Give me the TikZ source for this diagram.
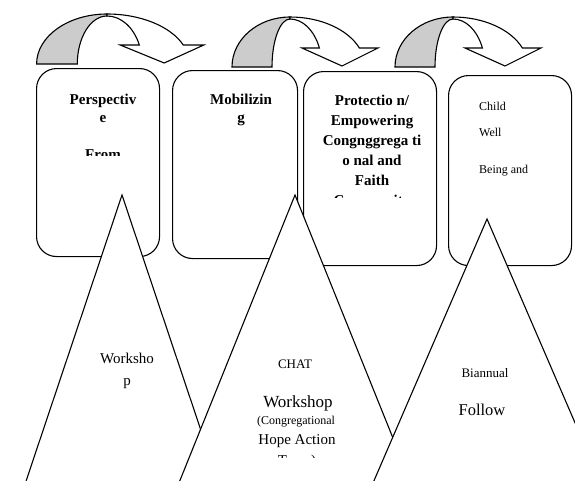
\documentclass[tikz,border=0pt]{standalone}
\usepackage{fontspec}
\setmainfont{Liberation Serif}

% curved block arrow: base centre, x stretch, outer and inner radius of the shaded foot
\newcommand{\bendarrow}[4]{%
  \begin{scope}[shift={#1},xscale=#2]
    \filldraw[backside] (-#3,0) arc[start angle=180,end angle=90,x radius=#3,y radius=50]
      -- (0,48) arc[start angle=90,end angle=180,x radius=#4,y radius=48] -- cycle;
    \filldraw[frontside] (0,50) arc[start angle=90,end angle=22.3,x radius=75,y radius=50]
      -- (88,19) -- (52,1) -- (12,19) -- (29.4,19)
      arc[start angle=23.3,end angle=90,x radius=32,y radius=48] -- cycle;
  \end{scope}}

\begin{document}
\begin{tikzpicture}[x=1pt,y=1pt,
  stage/.style={draw,line width=1.1pt,rounded corners=20pt,fill=white,
    anchor=north west,inner sep=0pt},
  wedge/.style={draw,line width=1.1pt,fill=white},
  backside/.style={draw,line width=1.1pt,fill=gray!40},
  frontside/.style={draw,line width=1.1pt,fill=white},
  boxtext/.style={align=center,anchor=north,inner sep=0pt,
    font=\bfseries\fontsize{15}{18.3}\selectfont},
  lbl/.style={anchor=base,inner sep=0pt}]
  \useasboundingbox (0,0) rectangle (575,-480);
  \clip (0,0) rectangle (575,-480);

  % the four stages
  \node[stage,minimum width=123pt,minimum height=188pt] (persp) at (36,-68) {};
  \node[stage,minimum width=125pt,minimum height=188pt] (mobil) at (172,-70) {};
  \node[stage,minimum width=133pt,minimum height=194pt] (protect) at (303,-71) {};
  \node[stage,minimum width=123pt,minimum height=190pt] (childwell) at (448,-75) {};

  \begin{scope}
    \clip (36,-68) rectangle (159,-155);
    \node[boxtext] (persptxt) at (103,-94) {Perspectiv\\e\\[18.3pt]From};
  \end{scope}
  \node[boxtext] (mobiltxt) at (241,-94) {Mobilizin\\g};
  \begin{scope}
    \clip (303,-71) rectangle (436,-197);
    \node[boxtext,font=\bfseries\fontsize{15}{20}\selectfont] (protecttxt) at (372,-95)
      {Protectio n/\\Empowering\\Congnggrega ti\\o nal and\\Faith\\Community};
  \end{scope}
  \node[align=left,anchor=north west,inner sep=0pt,font=\fontsize{12}{18}\selectfont]
    (childtxt) at (479,-102) {Child\\[8pt]Well\\[19pt]Being and};

  % triangles
  \draw[wedge] (13,-520) -- (122,-195) -- (231,-520) -- cycle;
  \node[align=center,anchor=north,inner sep=0pt,font=\fontsize{15}{22}\selectfont]
    (worktxt) at (127,-352.7) {Worksho\\p};

  \draw[wedge] (164,-520) -- (295,-195) -- (426,-520) -- cycle;
  \node[lbl,font=\fontsize{13}{13}\selectfont] (chat) at (295,-368) {CHAT};
  \node[lbl,font=\fontsize{17}{17}\selectfont] (chatwork) at (298,-407) {Workshop};
  \node[lbl,font=\fontsize{12}{12}\selectfont] (congr) at (296,-424) {(Congregational};
  \node[lbl,font=\fontsize{15}{15}\selectfont] (hope) at (297,-444) {Hope Action};
  \begin{scope}
    \clip (230,-440) rectangle (360,-457.5);
    \node[lbl,font=\fontsize{15}{15}\selectfont] (team) at (297,-465) {Team)};
  \end{scope}

  \draw[wedge] (357,-520) -- (487,-219) -- (617,-520) -- cycle;
  \node[lbl,font=\fontsize{13}{13}\selectfont] (biann) at (485,-377) {Biannual};
  \node[lbl,font=\fontsize{16.5}{16.5}\selectfont] (follow) at (482,-415.5) {Follow};

  % arrows over the stages
  \bendarrow{(107,-64)}{1.1}{64}{27}
  \bendarrow{(290,-67)}{1}{58}{18}
  \bendarrow{(453,-67)}{1}{58}{18}
\end{tikzpicture}
\end{document}
